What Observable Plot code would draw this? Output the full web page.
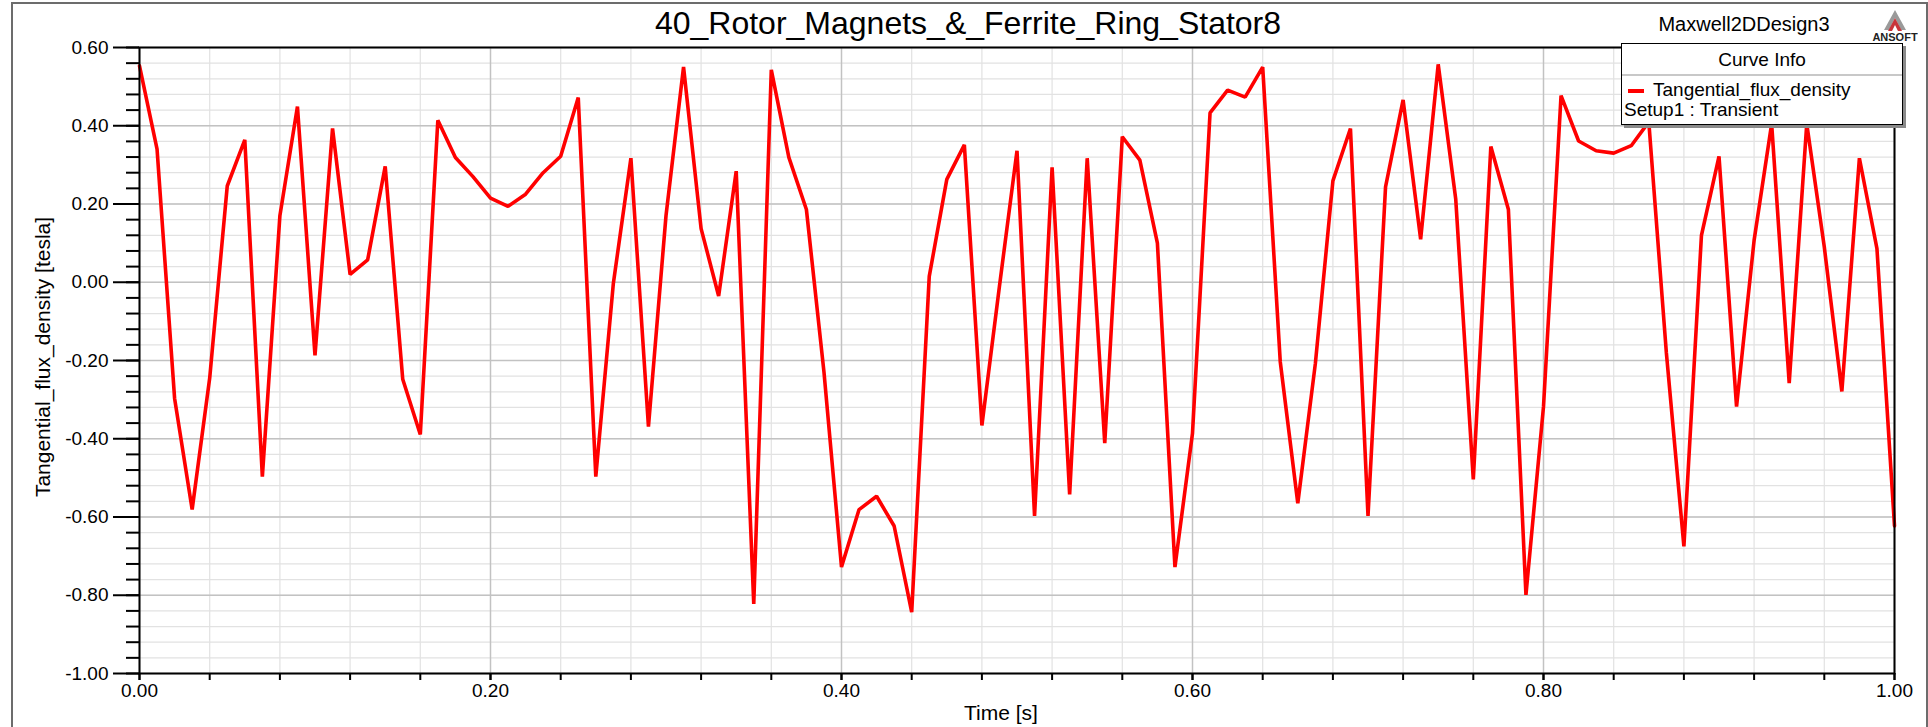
<!DOCTYPE html>
<html><head><meta charset="utf-8">
<script src="https://cdn.jsdelivr.net/npm/d3@7"></script>
<script src="https://cdn.jsdelivr.net/npm/@observablehq/plot@0.6"></script>
<style>
html,body{margin:0;padding:0;background:#fff;}
#wrap{position:relative;width:1928px;height:727px;overflow:hidden;font-family:"Liberation Sans",Arial,sans-serif;color:#000;}
#chart{position:absolute;left:0;top:0;}
.abs{position:absolute;white-space:nowrap;}
#outer{left:11px;top:2px;width:1913px;height:740px;border-left:2px solid #6c6c6c;border-top:2px solid #6c6c6c;border-right:2px solid #6c6c6c;}
.c{transform:translate(-50%,-50%);}
#legend{left:1621px;top:43px;width:280px;height:80px;background:#fff;border:1.5px solid #000;box-shadow:3px 3px 0 #8a8a8a;}
#legend .hd{position:absolute;left:0;top:0;width:280px;height:30px;border-bottom:2px solid #c8c8c8;text-align:center;line-height:31px;font-size:19px;}
#legend .sw{position:absolute;left:6px;top:45px;width:16px;height:4px;background:#ff0000;}
#legend .l1{position:absolute;left:31px;top:35px;font-size:19px;}
#legend .l2{position:absolute;left:2px;top:55px;font-size:19px;}
</style></head>
<body>
<div id="wrap">
  <div id="chart"></div>
  <div class="abs" id="outer"></div>
  <div class="abs c" id="title" style="left:968px;top:23px;font-size:32px;"></div>
  <div class="abs c" id="design" style="left:1744px;top:24px;font-size:20px;"></div>
  <div class="abs" id="logo" style="left:1872px;top:8px;width:46px;height:36px;"></div>
  <div class="abs c" id="ylab" style="left:43px;top:357px;font-size:21px;transform:translate(-50%,-50%) rotate(-90deg);"></div>
  <div class="abs c" id="xlab" style="left:1001px;top:713px;font-size:21px;"></div>
  <div class="abs" id="legend">
    <div class="hd"></div>
    <div class="sw"></div>
    <div class="l1"></div>
    <div class="l2"></div>
  </div>
</div>
<script>
// ---- Texts ----
const titleText = "40_Rotor_Magnets_&_Ferrite_Ring_Stator8";
const designText = "Maxwell2DDesign3";
const xLabel = "Time [s]";
const yLabel = "Tangential_flux_density [tesla]";
const legendHeader = "Curve Info";
const seriesName = "Tangential_flux_density";
const setupName = "Setup1 : Transient";

// ---- Tick values / labels ----
const xMajor = [0, 0.2, 0.4, 0.6, 0.8, 1.0];
const xMinor = [0,0.04,0.08,0.12,0.16,0.2,0.24,0.28,0.32,0.36,0.4,0.44,0.48,0.52,0.56,0.6,0.64,0.68,0.72,0.76,0.8,0.84,0.88,0.92,0.96,1.0];
const yMajor = [-1.0, -0.8, -0.6, -0.4, -0.2, 0, 0.2, 0.4, 0.6];
const yMinor = [-1.0,-0.96,-0.92,-0.88,-0.84,-0.8,-0.76,-0.72,-0.68,-0.64,-0.6,-0.56,-0.52,-0.48,-0.44,-0.4,-0.36,-0.32,-0.28,-0.24,-0.2,-0.16,-0.12,-0.08,-0.04,0,0.04,0.08,0.12,0.16,0.2,0.24,0.28,0.32,0.36,0.4,0.44,0.48,0.52,0.56,0.6];

// ---- Series: time [s] ----
const time = [0.00,0.01,0.02,0.03,0.04,0.05,0.06,0.07,0.08,0.09,
0.10,0.11,0.12,0.13,0.14,0.15,0.16,0.17,0.18,0.19,
0.20,0.21,0.22,0.23,0.24,0.25,0.26,0.27,0.28,0.29,
0.30,0.31,0.32,0.33,0.34,0.35,0.36,0.37,0.38,0.39,
0.40,0.41,0.42,0.43,0.44,0.45,0.46,0.47,0.48,0.49,
0.50,0.51,0.52,0.53,0.54,0.55,0.56,0.57,0.58,0.59,
0.60,0.61,0.62,0.63,0.64,0.65,0.66,0.67,0.68,0.69,
0.70,0.71,0.72,0.73,0.74,0.75,0.76,0.77,0.78,0.79,
0.80,0.81,0.82,0.83,0.84,0.85,0.86,0.87,0.88,0.89,
0.90,0.91,0.92,0.93,0.94,0.95,0.96,0.97,0.98,0.99,
1.00];

// ---- Series: tangential flux density [tesla] ----
const fluxDensity = [
0.553, 0.340, -0.297, -0.581, -0.245, 0.246, 0.364, -0.497, 0.170, 0.449,
-0.187, 0.393, 0.020, 0.057, 0.296, -0.248, -0.389, 0.414, 0.319, 0.270,
0.215, 0.194, 0.225, 0.280, 0.322, 0.472, -0.497, -0.003, 0.317, -0.369,
0.170, 0.550, 0.137, -0.035, 0.284, -0.822, 0.543, 0.319, 0.186, -0.229,
-0.728, -0.581, -0.547, -0.623, -0.843, 0.015, 0.263, 0.351, -0.366, -0.010,
0.336, -0.597, 0.294, -0.542, 0.317, -0.411, 0.372, 0.312, 0.100, -0.728,
-0.386, 0.433, 0.491, 0.473, 0.550, -0.203, -0.565, -0.208, 0.259, 0.393,
-0.597, 0.244, 0.466, 0.110, 0.557, 0.212, -0.504, 0.347, 0.186, -0.799,
-0.318, 0.477, 0.361, 0.336, 0.330, 0.349, 0.410, -0.180, -0.675, 0.120,
0.322, -0.318, 0.107, 0.405, -0.258, 0.405, 0.090, -0.279, 0.317, 0.086,
-0.623];

const data = time.map((t, i) => ({t, v: fluxDensity[i]}));
const fmt = d => d.toFixed(2);

const chart = Plot.plot({
  width: 1928,
  height: 727,
  marginLeft: 139,
  marginRight: 34,
  marginTop: 47,
  marginBottom: 54,
  style: {fontFamily: "'Liberation Sans', Arial, sans-serif", fontSize: "19px", background: "transparent", color: "#000"},
  x: {domain: [0, 1]},
  y: {domain: [-1, 0.6]},
  marks: [
    Plot.ruleY(yMinor, {stroke: "#e2e2e2", strokeWidth: 1.2}),
    Plot.ruleX(xMinor, {stroke: "#e2e2e2", strokeWidth: 1.2}),
    Plot.ruleY(yMajor, {stroke: "#c2c2c2", strokeWidth: 1.4}),
    Plot.ruleX(xMajor, {stroke: "#c2c2c2", strokeWidth: 1.4}),
    Plot.line(data, {x: "t", y: "v", stroke: "#ff0000", strokeWidth: 3.6, strokeLinejoin: "miter"}),
    Plot.frame({stroke: "#000", strokeWidth: 2}),
    Plot.axisY(yMinor, {tickSize: 13, tickFormat: () => "", label: null, strokeWidth: 2}),
    Plot.axisY(yMajor, {tickSize: 26, tickPadding: 5, tickFormat: fmt, label: null, strokeWidth: 2, fontSize: 19}),
    Plot.axisX(xMinor, {tickSize: 7, tickFormat: () => "", label: null, strokeWidth: 2}),
    Plot.axisX(xMajor, {tickSize: 7, tickPadding: 3, tickFormat: fmt, label: null, strokeWidth: 2, fontSize: 19})
  ]
});
document.getElementById("chart").appendChild(chart);

document.getElementById("title").textContent = titleText;
document.getElementById("design").textContent = designText;
document.getElementById("xlab").textContent = xLabel;
document.getElementById("ylab").textContent = yLabel;
document.querySelector("#legend .hd").textContent = legendHeader;
document.querySelector("#legend .l1").textContent = seriesName;
document.querySelector("#legend .l2").textContent = setupName;

document.getElementById("logo").innerHTML =
  '<svg width="46" height="36" viewBox="0 0 46 36">' +
  '<polygon points="23,2 12,22 17,22 23,10 29,22 34,22" fill="#9a9a9a"/>' +
  '<polygon points="23,10 16,23 20,23 23,17 26,23 30,23" fill="#c8343a"/>' +
  '<text x="23" y="33" text-anchor="middle" font-family="Liberation Sans, Arial" font-weight="bold" font-size="11" fill="#222">ANSOFT</text>' +
  '</svg>';
</script>
</body></html>
